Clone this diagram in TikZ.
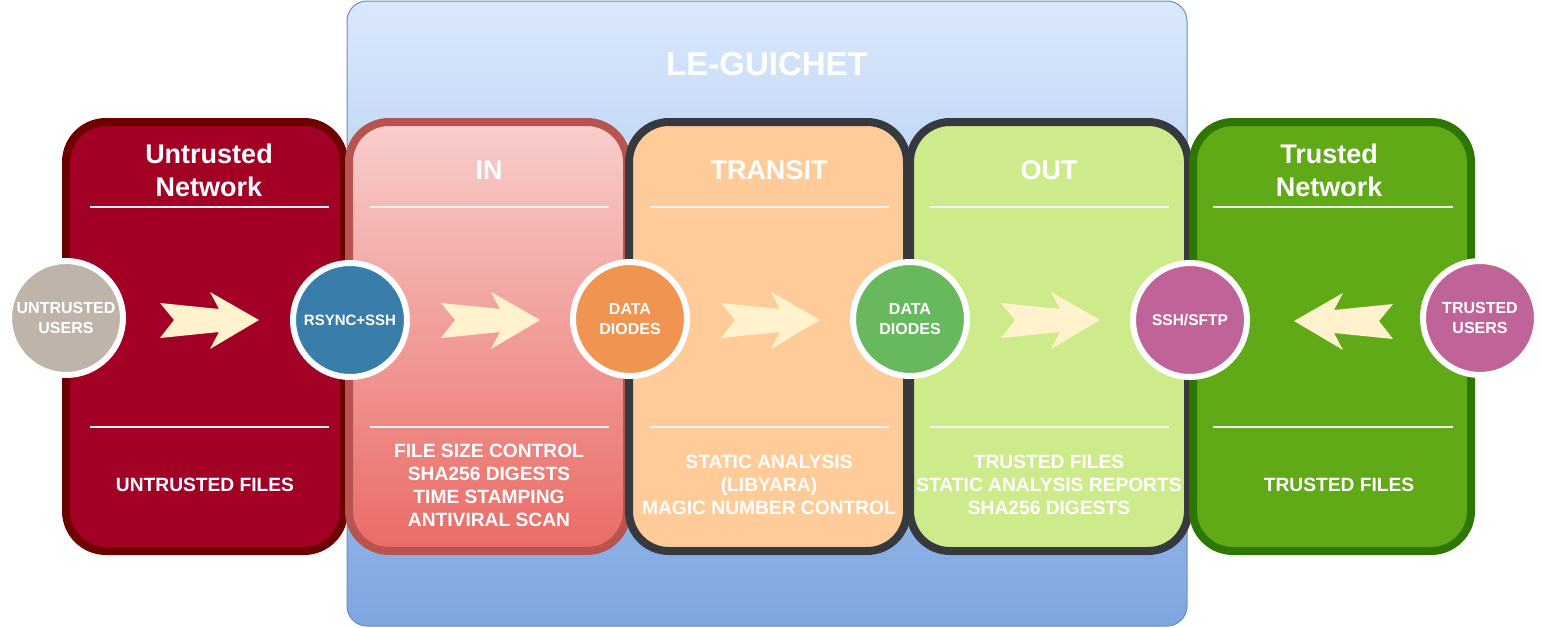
\documentclass[tikz,border=0pt]{standalone}
\usepackage{fontspec}
\setmainfont{Liberation Sans}
\definecolor{untrustfill}{HTML}{A20025}
\definecolor{untrustdraw}{HTML}{6F0000}
\definecolor{intop}{HTML}{F8CECC}
\definecolor{inbot}{HTML}{EA6B66}
\definecolor{indraw}{HTML}{B85450}
\definecolor{transitfill}{HTML}{FFCC99}
\definecolor{darkdraw}{HTML}{36393D}
\definecolor{outfill}{HTML}{CDEB8B}
\definecolor{trustfill}{HTML}{60A917}
\definecolor{trustdraw}{HTML}{2D7600}
\definecolor{bluetop}{HTML}{DAE8FC}
\definecolor{bluebot}{HTML}{7EA6E0}
\definecolor{bluedraw}{HTML}{6C8EBF}
\definecolor{cream}{HTML}{FFF2CC}
\definecolor{usergray}{HTML}{BFB4A9}
\definecolor{hubblue}{HTML}{397DAA}
\definecolor{huborange}{HTML}{EF9451}
\definecolor{hubgreen}{HTML}{68B95E}
\definecolor{hubpink}{HTML}{C06399}
\definecolor{sepline}{HTML}{F2F2F2}
\tikzset{
  zone/.style={rectangle, rounded corners=40pt, line width=8pt, minimum width=278pt, minimum height=429pt, inner sep=0pt},
  sep/.style={draw=sepline, line width=2pt},
  hub/.style={circle, draw=white, line width=6pt, minimum size=114pt, inner sep=0pt, text=white, font=\bfseries\fontsize{16}{20}\selectfont, align=center},
  title/.style={text=white, font=\bfseries\fontsize{27}{33}\selectfont, align=center, inner sep=0pt},
  body/.style={text=white, font=\bfseries\fontsize{19.2}{23}\selectfont, align=center, inner sep=0pt},
  fwd/.pic={\fill[cream] (-99,-17) -- (-40,-11) -- (-49,-28) -- (0,0) -- (-49,29) -- (-40,12) -- (-99,18) -- (-85,0) -- cycle;},
}
\begin{document}
\begin{tikzpicture}[x=1pt,y=-1pt]
\useasboundingbox (0,0) rectangle (1541,627);
% outer LE-GUICHET frame
\node[rectangle, rounded corners=20pt, draw=bluedraw, line width=1pt, top color=bluetop, bottom color=bluebot, minimum width=840pt, minimum height=625pt, inner sep=0pt] (guichet) at (767,313.5) {};
\node[text=white, font=\bfseries\fontsize{33}{40}\selectfont, inner sep=0pt] (guichettitle) at (767,64) {LE-GUICHET};
% zones
\node[zone, draw=untrustdraw, fill=untrustfill] (untrusted) at (205,336.5) {};
\node[zone, draw=indraw, top color=intop, bottom color=inbot] (in) at (488,336.5) {};
\node[zone, draw=darkdraw, fill=transitfill] (transit) at (768,336.5) {};
\node[zone, draw=darkdraw, fill=outfill] (out) at (1049,336.5) {};
\node[zone, draw=trustdraw, fill=trustfill] (trusted) at (1332,336.5) {};
% titles
\node[title] (t1) at (209,170) {Untrusted\\Network};
\node[title] (t2) at (489,170) {IN};
\node[title] (t3) at (769,170) {TRANSIT};
\node[title] (t4) at (1049,170) {OUT};
\node[title] (t5) at (1329,170) {Trusted\\Network};
% separators
\foreach \a/\b in {90/329,370/609,650/889,930/1169,1213/1453}{
  \draw[sep] (\a,207) -- (\b,207);
  \draw[sep] (\a,427) -- (\b,427);
}
% bottom texts
\node[body] (b1) at (205,485) {UNTRUSTED FILES};
\node[body] (b2) at (489,485) {FILE SIZE CONTROL\\SHA256 DIGESTS\\TIME STAMPING\\ANTIVIRAL SCAN};
\node[body] (b3) at (769,485) {STATIC ANALYSIS\\(LIBYARA)\\MAGIC NUMBER CONTROL};
\node[body] (b4) at (1049,485) {TRUSTED FILES\\STATIC ANALYSIS REPORTS\\SHA256 DIGESTS};
\node[body] (b5) at (1339,485) {TRUSTED FILES};
% arrows
\pic at (259,320) {fwd};
\pic at (540,320) {fwd};
\pic at (820,320) {fwd};
\pic at (1100,320) {fwd};
\pic[xscale=-1] at (1294,321) {fwd};
% hubs
\node[hub, fill=usergray] (uusers) at (66,318) {UNTRUSTED\\USERS};
\node[hub, fill=hubblue, font=\bfseries\fontsize{15}{19}\selectfont] (rsync) at (350,320) {RSYNC+SSH};
\node[hub, fill=huborange] (diodes1) at (630,319) {DATA\\DIODES};
\node[hub, fill=hubgreen] (diodes2) at (910,319) {DATA\\DIODES};
\node[hub, fill=hubpink, font=\bfseries\fontsize{15.5}{19}\selectfont] (ssh) at (1190,320) {SSH/SFTP};
\node[hub, fill=hubpink] (tusers) at (1480,318) {TRUSTED\\USERS};
\end{tikzpicture}
\end{document}
